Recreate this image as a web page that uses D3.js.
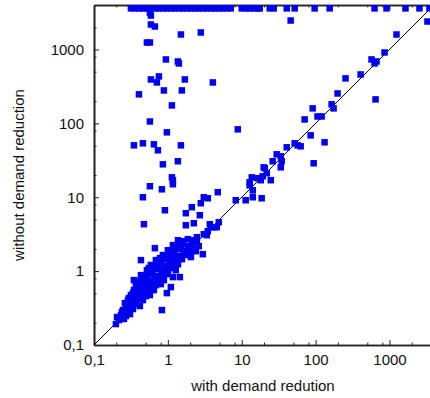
<!DOCTYPE html>
<html>
<head>
<meta charset="utf-8">
<script src="https://cdn.jsdelivr.net/npm/d3@7"></script>
<style>
  body { margin: 0; background: #fff; }
  svg { display: block; font-family: "Liberation Sans", Arial, sans-serif; }
</style>
</head>
<body>
<div id="chart"></div>
<script>
// run times in seconds: [with demand reduction, without demand reduction]
const TIMEOUT = 3600

// only the run without reduction hit the time limit
const timeoutWith = [0.316, 0.358, 0.406, 0.459, 0.52, 0.589, 0.667, 0.755, 0.855, 0.97,
  1.1, 1.24, 1.41, 1.6, 1.81, 2.05, 2.32, 2.62, 2.97, 3.37, 3.81, 4.32, 4.89, 5.53, 6.27,
  7.1, 10, 11.3, 12.8, 14.5, 16.45, 17.5, 23.9, 27.1, 40.6, 52, 96.9, 155, 627, 911,
  1645, 2543, 3471]

// far above the diagonal
const slowWithout = [
  [0.571, 3162], [0.589, 2880], [0.589, 2177], [0.667, 2046], [1.5, 1595], [2.79, 1697],
  [0.52, 1243], [0.571, 1243], [0.94, 733], [1.365, 688], [1.408, 647], [0.589, 393],
  [0.756, 432], [0.71, 358], [1.697, 393], [4.06, 358], [0.406, 247], [0.883, 279],
  [1.546, 279], [1.133, 175], [0.571, 106], [0.969, 75.6], [0.347, 50.4], [0.459, 53.7],
  [0.647, 52], [1.5, 50.4], [0.733, 43.2], [0.856, 27.9], [1.365, 30.7], [1.133, 18.6],
  [1.169, 17], [1.169, 15], [0.571, 14.1], [0.83, 12.8], [0.459, 10], [3.065, 10],
  [3.471, 9.69], [45.9, 2466], [8.83, 83], [0.911, 6.67], [2.79, 8.3], [2.11, 7.33],
  [1.751, 6.08], [2.707, 5.71], [2.246, 4.45], [1.751, 4.18], [0.474, 4.32], [4.74, 11.7],
  [0.667, 2.046], [0.432, 1.408], [0.432, 0.883], [0.347, 0.756]
]

// larger instances, close to the diagonal
const nearDiagonal = [
  [3262, 2390], [1243, 1595], [856, 911], [571, 733], [627, 647], [667, 688], [406, 459],
  [254, 406], [198, 254], [647, 211], [164.5, 181], [175, 159.5], [91.1, 159.5], [71, 113],
  [106, 124], [120.5, 124], [85.6, 68.8], [132, 55.4], [52, 53.7], [62.7, 48.9], [40.6, 47.4],
  [57.1, 50.4], [29.7, 38.1], [33.7, 35.8], [26.2, 30.7], [34.7, 30.7], [33.7, 25.4],
  [94, 28.8], [20.5, 24.7], [21.8, 21.1], [19.2, 19.2], [13.65, 18.6], [16.45, 18.1],
  [24.7, 17], [18.1, 17], [12.8, 15.95], [12.8, 14.5], [14.1, 12.4], [14.1, 10], [8.3, 9.11],
  [11.3, 9.11], [18.6, 9.69], [19.8, 25.4], [3.694, 4.32], [4.18, 3.93], [4.59, 3.93],
  [4.89, 4.59], [3.47, 3.47], [3.065, 3.16], [3.365, 3.065], [2.466, 2.88], [2.177, 2.623],
  [2.466, 2.466], [3.811, 3.93], [2.971, 1.697]
]

// small instances, dense band
const smallRuns = [
  [0.83, 0.297], [0.969, 0.504], [1.098, 0.608], [1.453, 0.83], [1.169, 0.83], [0.198, 0.192],
  [1.37, 2.62], [1.6, 2.54], [1.86, 2.71],
  [1.17, 2.25], [1.37, 2.18], [1.6, 2.32], [1.86, 2.18], [2.11, 2.25],
  [1, 1.92], [1.17, 1.86], [1.37, 1.98], [1.65, 1.86], [1.92, 1.92], [2.25, 1.98],
  [0.856, 1.65], [1, 1.6], [1.21, 1.7], [1.41, 1.6], [1.7, 1.65], [1.98, 1.7],
  [0.688, 1.41], [0.804, 1.37], [0.94, 1.45], [1.1, 1.37], [1.28, 1.41], [1.55, 1.45],
  [0.589, 1.21], [0.688, 1.17], [0.804, 1.24], [0.94, 1.17], [1.13, 1.21], [1.37, 1.24],
  [0.52, 1.03], [0.608, 1], [0.71, 1.06], [0.83, 1], [1, 1.03], [1.28, 1.03],
  [0.52, 0.856], [0.608, 0.911], [0.71, 0.856], [0.856, 0.883], [1, 0.911],
  [0.406, 0.733], [0.474, 0.756], [0.554, 0.733], [0.647, 0.78], [0.756, 0.733], [0.883, 0.756],
  [0.369, 0.647], [0.432, 0.627], [0.504, 0.667], [0.589, 0.627], [0.688, 0.647], [0.804, 0.667],
  [0.347, 0.554], [0.406, 0.537], [0.474, 0.571], [0.554, 0.537], [0.647, 0.554],
  [0.316, 0.474], [0.369, 0.459], [0.432, 0.489], [0.504, 0.459], [0.571, 0.474],
  [0.288, 0.406], [0.337, 0.393], [0.393, 0.418], [0.459, 0.406],
  [0.271, 0.347], [0.316, 0.337], [0.369, 0.358], [0.418, 0.337],
  [0.247, 0.297], [0.288, 0.288], [0.337, 0.307],
  [0.232, 0.254], [0.271, 0.247], [0.307, 0.262],
  [0.218, 0.218], [0.254, 0.225],
  [2.62, 2.18], [2.39, 1.86], [2.05, 1.55],
  [0.733, 1.28], [1.03, 1.28], [0.554, 1.1], [0.756, 1.1], [1.06, 1.1],
  [0.474, 0.804], [0.432, 0.688], [0.608, 0.688], [0.381, 0.589], [0.52, 0.589],
  [0.337, 0.504], [0.459, 0.504], [0.297, 0.432], [0.406, 0.445], [0.262, 0.369],
  [0.347, 0.369], [0.271, 0.316], [0.239, 0.279], [0.205, 0.239],
  [1.5, 2.11], [1.75, 1.8], [1.1, 1.55], [0.78, 1.5]
]

const majorTicks = [0.1, 1, 10, 100, 1000]
const tickLabels = ["0,1", "1", "10", "100", "1000"]
const minorSteps = [2, 5, 8]

const width = 430, height = 398
const margin = { left: 94, right: 434, top: 5, bottom: 345 }

let svg = d3.select("#chart").append("svg")
  .attr("width", width)
  .attr("height", height)

let x = d3.scaleLog().domain([0.1, 4000]).range([margin.left, margin.right])
let y = d3.scaleLog().domain([0.1, 4000]).range([margin.bottom, margin.top])

let minorTicks = []
majorTicks.forEach(m => minorSteps.forEach(s => minorTicks.push(m * s)))
minorTicks = minorTicks.filter(v => v < 4000)

const fmt = v => tickLabels[majorTicks.indexOf(v)]

function styleAxis(g) {
  g.select(".domain").attr("stroke", "#222").attr("stroke-width", 1.6)
  g.selectAll(".tick line").attr("stroke", "#222").attr("stroke-width", 1)
  g.selectAll(".tick text").attr("fill", "#111").style("font-size", "15px")
}

// bottom
svg.append("g").attr("transform", `translate(0,${margin.bottom})`)
  .call(d3.axisBottom(x).tickValues(minorTicks).tickSize(-2.5).tickSizeOuter(0).tickFormat(""))
  .call(styleAxis)
svg.append("g").attr("transform", `translate(0,${margin.bottom})`)
  .call(d3.axisBottom(x).tickValues(majorTicks).tickSize(-5).tickSizeOuter(0).tickPadding(9).tickFormat(fmt))
  .call(styleAxis)

// top (mirror)
svg.append("g").attr("transform", `translate(0,${margin.top})`)
  .call(d3.axisTop(x).tickValues(minorTicks).tickSize(-2.5).tickSizeOuter(0).tickFormat(""))
  .call(styleAxis)
svg.append("g").attr("transform", `translate(0,${margin.top})`)
  .call(d3.axisTop(x).tickValues(majorTicks).tickSize(-5).tickSizeOuter(0).tickFormat(""))
  .call(styleAxis)

// left
svg.append("g").attr("transform", `translate(${margin.left},0)`)
  .call(d3.axisLeft(y).tickValues(minorTicks).tickSize(-2.5).tickSizeOuter(0).tickFormat(""))
  .call(styleAxis)
svg.append("g").attr("transform", `translate(${margin.left},0)`)
  .call(d3.axisLeft(y).tickValues(majorTicks).tickSize(-5).tickSizeOuter(0).tickPadding(10).tickFormat(fmt))
  .call(styleAxis)

// y = x
svg.append("line")
  .attr("x1", x(0.1)).attr("y1", y(0.1))
  .attr("x2", x(4000)).attr("y2", y(4000))
  .attr("stroke", "#000").attr("stroke-width", 1)

let points = slowWithout.concat(nearDiagonal, smallRuns, timeoutWith.map(v => [v, TIMEOUT]))
const s = 6.5

svg.append("g").selectAll("rect")
  .data(points)
  .join("rect")
  .attr("x", d => x(d[0]) - s / 2)
  .attr("y", d => y(d[1]) - s / 2)
  .attr("width", s)
  .attr("height", s)
  .attr("fill", "#0000f0")

svg.append("text")
  .attr("x", 263).attr("y", 391)
  .attr("text-anchor", "middle")
  .style("font-size", "15px").attr("fill", "#111")
  .text("with demand redution")

svg.append("text")
  .attr("transform", "translate(24,175) rotate(-90)")
  .attr("text-anchor", "middle")
  .style("font-size", "15px").attr("fill", "#111")
  .text("without demand reduction")
</script>
</body>
</html>
